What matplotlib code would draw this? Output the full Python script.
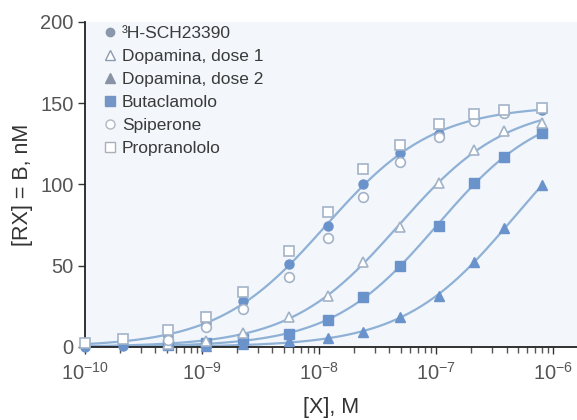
import numpy as np
import matplotlib
matplotlib.use('Agg')
import matplotlib.pyplot as plt
from matplotlib.lines import Line2D

plt.rcParams['font.family'] = ['Liberation Sans', 'DejaVu Sans']
plt.rcParams['mathtext.fontset'] = 'custom'
plt.rcParams['mathtext.rm'] = 'Liberation Sans'

# ligand concentrations, M
CONC = [1.0e-10, 2.1e-10, 5.1e-10, 1.08e-9, 2.24e-9, 5.6e-9, 1.2e-8,
        2.4e-8, 4.9e-8, 1.05e-7, 2.1e-7, 3.8e-7, 8.1e-7]

# bound radioligand B (nM) for each condition; first value sits at CONC[start]
sch_start = 0
sch = [0, 0.5, 6.5, 14.5, 28.5, 51, 74.5, 100, 119, 131, 140, 144, 146]
dopa1_start = 2
dopa1 = [1.5, 3.5, 8.8, 18.3, 31.5, 52, 73.8, 100.6, 121, 133, 137.6]
dopa2_start = 3
dopa2 = [0.5, 1.5, 3.7, 5.5, 9.3, 18.2, 31.5, 52, 73, 99.5]
buta_start = 2
buta = [1, 2.5, 5, 8, 16.7, 31, 49.5, 74.7, 100.6, 117, 131.5]
spip_start = 2
spip = [4, 12, 23.5, 43, 67, 92.5, 114, 129, 139, 144]
prop_start = 0
prop = [2.5, 5, 10.5, 18.5, 33.5, 59, 83, 109.5, 124, 137, 143, 145.5, 147]

LINE_C = '#8fb1d6'
FILL_C = '#6b93cb'
EDGE_C = '#a2b3c8'


def hill_fit(x, y):
    """Grid-search a one-site binding curve B = Bmax x^n / (K^n + x^n)."""
    lx = np.log10(x)
    y = np.asarray(y, float)
    best = None
    for logk in np.arange(-9.5, -5.5, 0.005):
        for n in np.arange(0.7, 1.31, 0.02):
            f = 1.0 / (1.0 + 10 ** (n * (logk - lx)))
            bmax = np.dot(f, y) / np.dot(f, f)
            err = np.sum((bmax * f - y) ** 2)
            if best is None or err < best[0]:
                best = (err, bmax, logk, n)
    _, bmax, logk, n = best
    return lambda xx: bmax / (1.0 + 10 ** (n * (logk - np.log10(xx))))


conc = np.array(CONC)
xs = np.logspace(np.log10(conc[0]), np.log10(conc[-1]), 300)

fig = plt.figure(figsize=(5.77, 4.2), dpi=100)
ax = fig.add_axes([0.147, 0.174, 0.853, 0.774])
ax.set_facecolor('#f3f6fb')

# fitted curves: one through the radioligand alone, one per competitor that shifts it
for vals, start in [(sch, sch_start), (dopa1, dopa1_start),
                    (buta, buta_start), (dopa2, dopa2_start)]:
    xc = conc[start:start + len(vals)]
    ax.plot(xs, hill_fit(xc, vals)(xs), color=LINE_C, lw=1.6, zorder=2)

series = [
    (sch, sch_start, dict(marker='o', ms=6.5, mfc=FILL_C, mec=FILL_C)),
    (dopa2, dopa2_start, dict(marker='^', ms=7, mfc=FILL_C, mec=FILL_C)),
    (buta, buta_start, dict(marker='s', ms=7, mfc=FILL_C, mec=FILL_C)),
    (dopa1, dopa1_start, dict(marker='^', ms=7.5, mfc='white', mec=EDGE_C, mew=1.2)),
    (spip, spip_start, dict(marker='o', ms=7, mfc='white', mec=EDGE_C, mew=1.2)),
    (prop, prop_start, dict(marker='s', ms=7, mfc='white', mec=EDGE_C, mew=1.2)),
]
for i, (vals, start, style) in enumerate(series):
    ax.plot(conc[start:start + len(vals)], vals, ls='none', zorder=3 + i,
            clip_on=False, **style)

ax.set_xscale('log')
ax.set_xlim(1e-10, 1.6e-6)
ax.set_ylim(0, 200)
ax.set_yticks([0, 50, 100, 150, 200])
ax.set_xticks([1e-10, 1e-9, 1e-8, 1e-7, 1e-6])

for side in ['top', 'right']:
    ax.spines[side].set_visible(False)
for side in ['left', 'bottom']:
    ax.spines[side].set_color('#222222')
    ax.spines[side].set_linewidth(1.3)

ax.tick_params(axis='both', which='major', direction='out', length=5, width=1,
               color='#333333', labelsize=14.5, labelcolor='#555555')
ax.tick_params(axis='x', which='minor', direction='out', length=4, width=1,
               color='#555555')
ax.tick_params(axis='x', which='major', pad=6)
ax.tick_params(axis='y', which='major', pad=3)

ax.set_xlabel('[X], M', fontsize=15.5, color='#333333', labelpad=9)
ax.set_ylabel('[RX] = B, nM', fontsize=15.5, color='#333333', labelpad=5)

handles = [
    Line2D([], [], ls='none', marker='o', ms=6, mfc='#8b98ab', mec='#8b98ab'),
    Line2D([], [], ls='none', marker='^', ms=6.5, mfc='white', mec='#8d9ab0', mew=1),
    Line2D([], [], ls='none', marker='^', ms=6.5, mfc='#8893a6', mec='#8893a6'),
    Line2D([], [], ls='none', marker='s', ms=6.5, mfc='#7595c6', mec='#7595c6'),
    Line2D([], [], ls='none', marker='o', ms=6.5, mfc='white', mec='#b0b8c4', mew=1),
    Line2D([], [], ls='none', marker='s', ms=6.5, mfc='white', mec='#a8b0bc', mew=1),
]
labels = ['³H-SCH23390', 'Dopamina, dose 1', 'Dopamina, dose 2',
          'Butaclamolo', 'Spiperone', 'Propranololo']
leg = ax.legend(handles, labels, loc='upper left', bbox_to_anchor=(0.022, 1.01),
                frameon=False, fontsize=12.5, handlelength=0.8, handletextpad=0.3,
                labelspacing=0.46, borderaxespad=0)
for t in leg.get_texts():
    t.set_color('#3a3a3a')

fig.savefig('out.png', dpi=100)
